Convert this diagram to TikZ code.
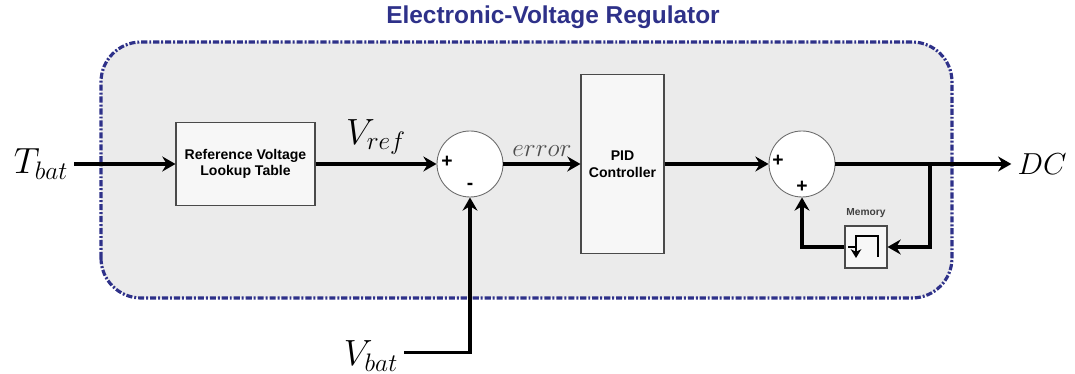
\documentclass[tikz,border=0pt]{standalone}
\usepackage{fontspec}
\setsansfont{Liberation Sans}
\usepackage{tikz}
\usetikzlibrary{positioning,arrows.meta,calc}
\definecolor{navy}{HTML}{2E3189}
\definecolor{panel}{HTML}{EBEBEB}
\definecolor{boxline}{HTML}{4A4A4A}
\tikzset{
  block/.style={draw=boxline, line width=0.6pt, fill=white!97!black, align=center, inner sep=0pt,
    font=\sffamily\bfseries\fontsize{8}{9.5}\selectfont},
  sumnode/.style={circle, draw=gray!85!black, line width=0.5pt, fill=white, minimum size=1.32cm, inner sep=0pt},
  sign/.style={font=\sffamily\bfseries\fontsize{11}{12}\selectfont, inner sep=0pt},
  sig/.style={line width=1.9pt, -{Stealth[length=7.5pt,width=8.5pt,inset=2.5pt]}},
  wire/.style={line width=1.9pt},
}
\begin{document}
\begin{tikzpicture}
  \useasboundingbox (0,0) rectangle (21.5,7.48);
  % Regulator panel
  \draw[navy, line width=1.8pt, dash pattern=on 3.5pt off 1.1pt on 1.1pt off 1.1pt,
    fill=panel, rounded corners=0.8cm] (2.02,1.52) rectangle (19.04,6.64);
  \node[font=\sffamily\bfseries\fontsize{13.9}{16}\selectfont, text=navy] (title) at (11.06,7.14)
    {Electronic-Voltage Regulator};
  % Blocks
  \node[block, minimum width=2.78cm, minimum height=1.66cm] (lut) at (4.91,4.2)
    {Reference Voltage\\Lookup Table};
  \node[sumnode] (sumA) at (9.4,4.2) {};
  \node[block, minimum width=1.66cm, minimum height=3.58cm] (pid) at (12.45,4.2)
    {PID\\Controller};
  \node[sumnode] (sumB) at (16.04,4.2) {};
  \node[block, minimum size=0.84cm] (mem) at (17.32,2.54) {};
  \node[font=\sffamily\bfseries\fontsize{5.8}{7}\selectfont, text=black!75, above=1pt of mem]
    (memlbl) {Memory};
  % Memory icon
  \draw[line width=1.4pt, -{Stealth[length=5pt,width=6pt,inset=1.5pt]}]
    ($(mem.center)+(0.24,-0.2)$) -- ++(0,0.42) -- ++(-0.44,0) -- ++(0,-0.44);
  \draw[line width=1.4pt] ($(mem.center)+(-0.36,0)$) -- ++(0.16,0);
  % Signs
  \node[sign] (pA) at ($(sumA)+(-0.46,0.04)$) {+};
  \node[sign] (mA) at ($(sumA)+(0,-0.44)$) {-};
  \node[sign] (pB) at ($(sumB)+(-0.48,0.06)$) {+};
  \node[sign] (qB) at ($(sumB)+(0,-0.45)$) {+};
  % Signals
  \node[font=\huge] (tbat) at (0.82,4.2) {$T_{bat}$};
  \node[font=\huge] (vbat) at (7.42,0.36) {$V_{bat}$};
  \node[font=\LARGE] (dc) at (20.84,4.2) {$DC$};
  \coordinate (tap) at (18.6,4.2);
  \draw[sig] (tbat) -- (lut);
  \draw[sig] (lut) -- node[midway, above=1pt, font=\huge] (vref) {$V_{ref}$} (sumA);
  \draw[sig] ([yshift=2pt]vbat.east) -| (sumA.south);
  \draw[sig] (sumA) -- node[midway, above=0pt, font=\Large, text=black!70] (err) {$error$} (pid);
  \draw[sig] (pid) -- (sumB);
  \draw[wire] (sumB) -- (tap);
  \draw[sig] (tap) -- (dc);
  \draw[sig] (tap) |- (mem.east);
  \draw[sig] (mem.west) -| (sumB.south);
\end{tikzpicture}
\end{document}
